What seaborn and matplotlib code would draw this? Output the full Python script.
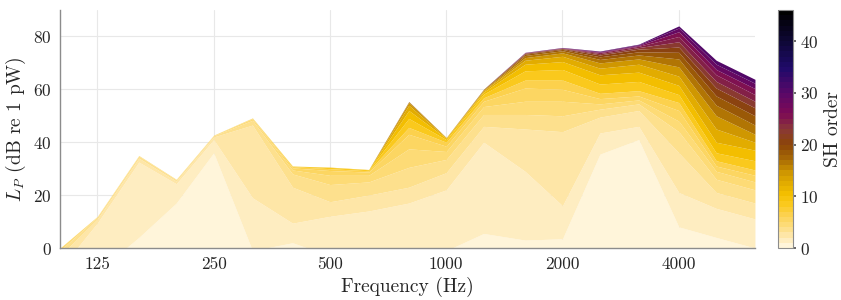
import numpy as np
import pandas as pd
import matplotlib
matplotlib.use("Agg")
import matplotlib.pyplot as plt
import seaborn as sns
from matplotlib.colors import LinearSegmentedColormap, Normalize
from matplotlib.cm import ScalarMappable

# third-octave band centre frequencies (Hz)
freqs = [100, 125, 160, 200, 250, 315, 400, 500, 630, 800, 1000,
         1250, 1600, 2000, 2500, 3150, 4000, 5000, 6300]

orders = [0, 1, 2, 3, 4, 5, 6, 8, 10, 12, 14, 16, 18, 20, 22, 24, 26, 28, 30]

# cumulative sound power level (dB re 1 pW) up to each order, one row per band
lp_100 = [-20, -8, -3, -1, 0, 0, 0, 0, 0, 0, 0, 0, 0, 0, 0, 0, 0, 0, 0]
lp_125 = [-9, 9.5, 11, 11.8, 12, 12, 12, 12, 12, 12, 12, 12, 12, 12, 12, 12, 12, 12, 12]
lp_160 = [4, 32.5, 34, 34.8, 35, 35, 35, 35, 35, 35, 35, 35, 35, 35, 35, 35, 35, 35, 35]
lp_200 = [17, 24.3, 25.3, 25.8, 26, 26, 26, 26, 26, 26, 26, 26, 26, 26, 26, 26, 26, 26, 26]
lp_250 = [36, 41, 42, 42.5, 42.7, 42.7, 42.7, 42.7, 42.7, 42.7, 42.7, 42.7, 42.7, 42.7, 42.7, 42.7, 42.7, 42.7, 42.7]
lp_315 = [-1, 19, 46.5, 48.3, 48.9, 49.1, 49.2, 49.2, 49.2, 49.2, 49.2, 49.2, 49.2, 49.2, 49.2, 49.2, 49.2, 49.2, 49.2]
lp_400 = [2, 9.4, 23, 28, 29.5, 30.3, 30.8, 31, 31, 31, 31, 31, 31, 31, 31, 31, 31, 31, 31]
lp_500 = [-3, 12, 17.5, 24, 27.5, 29.3, 30, 30.5, 30.6, 30.6, 30.6, 30.6, 30.6, 30.6, 30.6, 30.6, 30.6, 30.6, 30.6]
lp_630 = [-5, 14, 20, 25, 27.5, 28.7, 29.2, 29.6, 29.7, 29.7, 29.7, 29.7, 29.7, 29.7, 29.7, 29.7, 29.7, 29.7, 29.7]
lp_800 = [-6, 17, 23, 30.5, 37.5, 43, 45.6, 49, 52, 54, 55, 55.3, 55.4, 55.4, 55.4, 55.4, 55.4, 55.4, 55.4]
lp_1000 = [-1, 22, 28.5, 33.5, 36.5, 38.5, 40, 41, 41.5, 41.7, 41.8, 41.8, 41.8, 41.8, 41.8, 41.8, 41.8, 41.8, 41.8]
lp_1250 = [5.5, 40, 46, 50.5, 53.5, 55.5, 56.8, 58.2, 59, 59.5, 59.8, 60, 60.1, 60.1, 60.1, 60.1, 60.1, 60.1, 60.1]
lp_1600 = [3, 29, 45, 50.5, 55.5, 60.5, 63.5, 67, 69.5, 71, 72, 72.8, 73.3, 73.6, 73.75, 73.85, 73.9, 73.95, 74]
lp_2000 = [3.5, 16, 44, 50, 55.5, 60, 63.5, 67.5, 70.5, 72.5, 73.8, 74.6, 75.1, 75.4, 75.55, 75.65, 75.7, 75.8, 75.85]
lp_2500 = [35.5, 43.5, 49.5, 52.5, 54.5, 56.5, 58.5, 62, 65.5, 68, 70, 71.3, 72.3, 73, 73.5, 73.9, 74.1, 74.35, 74.5]
lp_3150 = [41, 46, 52, 54.5, 56, 57.5, 59.5, 63, 66.5, 69.5, 71.5, 73, 74.2, 75.2, 75.8, 76.3, 76.6, 76.9, 77.1]
lp_4000 = [8, 21, 36, 44, 48, 52, 55, 58, 61.5, 65, 68.5, 71.5, 74, 76, 78, 80, 81.8, 83.2, 84]
lp_5000 = [4, 15, 21, 26, 29, 31, 33, 36, 40, 45, 50, 54, 57.5, 60.5, 63, 65.5, 67.5, 69.5, 71]
lp_6300 = [0, 11, 17, 22, 25, 27.5, 29.5, 33, 37, 40, 43, 46.5, 50, 53, 55.5, 58, 60.3, 62.3, 63.8]

bands = [lp_100, lp_125, lp_160, lp_200, lp_250, lp_315, lp_400, lp_500, lp_630,
         lp_800, lp_1000, lp_1250, lp_1600, lp_2000, lp_2500, lp_3150, lp_4000,
         lp_5000, lp_6300]

xtick_vals = [125, 250, 500, 1000, 2000, 4000]
ytick_vals = [0, 20, 40, 60, 80]
cbar_ticks = [0, 10, 20, 30, 40]
max_order = 46

# long table: one row per (band, order)
df = pd.DataFrame(bands, index=freqs, columns=orders)
df.index.name = "freq"
long = df.reset_index().melt(id_vars="freq", var_name="order", value_name="lp")

sns.set_theme(style="white")
plt.rcParams["font.family"] = "serif"
plt.rcParams["font.serif"] = ["cmr10"]
plt.rcParams["mathtext.fontset"] = "cm"
plt.rcParams["axes.formatter.use_mathtext"] = True

# cream -> gold -> brown -> purple -> black
anchors = [(0, "#fff5da"), (1, "#feedc2"), (2, "#fee6a8"), (3, "#fde08e"),
           (4, "#fddb78"), (6, "#fcd250"), (8, "#fbca20"), (10, "#f5c000"),
           (14, "#d39c00"), (17, "#a86a05"), (20, "#8b4509"), (23, "#8a3838"),
           (26, "#7d0a55"), (30, "#5a0868"), (35, "#1f0a6a"), (40, "#0f0838"),
           (46, "#000000")]
cmap = LinearSegmentedColormap.from_list(
    "sh", [(p / max_order, c) for p, c in anchors], N=max_order)
norm = Normalize(0, max_order)

fig = plt.figure(figsize=(8.41, 3.0), dpi=100)
ax = fig.add_axes([0.0713, 0.1733, 0.8264, 0.7933])
cax = fig.add_axes([0.925, 0.1733, 0.0178, 0.7933])

ax.set_axisbelow(True)
ax.grid(True, color="#e8e8e8", linewidth=0.8)

prev = None
for n in orders:
    sub = long[long["order"] == n].sort_values("freq")
    lower = np.full(len(sub), -40.0) if prev is None else prev
    ax.fill_between(sub["freq"].values, lower, sub["lp"].values,
                    color=cmap(norm(n)), linewidth=0, zorder=2)
    prev = sub["lp"].values

ax.set_xscale("log")
ax.set_xlim(100, 6300)
ax.set_ylim(0, 90)
ax.set_xticks(xtick_vals)
ax.set_xticklabels([str(v) for v in xtick_vals])
ax.xaxis.set_minor_locator(matplotlib.ticker.NullLocator())
ax.set_yticks(ytick_vals)
ax.tick_params(length=0, labelsize=12.5, pad=6)
ax.set_xlabel("Frequency (Hz)", fontsize=14, labelpad=4)
ax.set_ylabel(r"$L_P$ (dB re 1 pW)", fontsize=14, labelpad=4)
for side in ["top", "right"]:
    ax.spines[side].set_visible(False)
for side in ["left", "bottom"]:
    ax.spines[side].set_color("#8c8c8c")
    ax.spines[side].set_linewidth(1.0)
    ax.spines[side].set_zorder(3)

sm = ScalarMappable(norm=norm, cmap=cmap)
cb = fig.colorbar(sm, cax=cax, ticks=cbar_ticks)
cb.outline.set_edgecolor("#8c8c8c")
cb.outline.set_linewidth(0.8)
cax.tick_params(length=2, labelsize=12.5, pad=3, color="#555555")
cb.set_label("SH order", fontsize=14, labelpad=4)

fig.savefig("out.png", dpi=100)
